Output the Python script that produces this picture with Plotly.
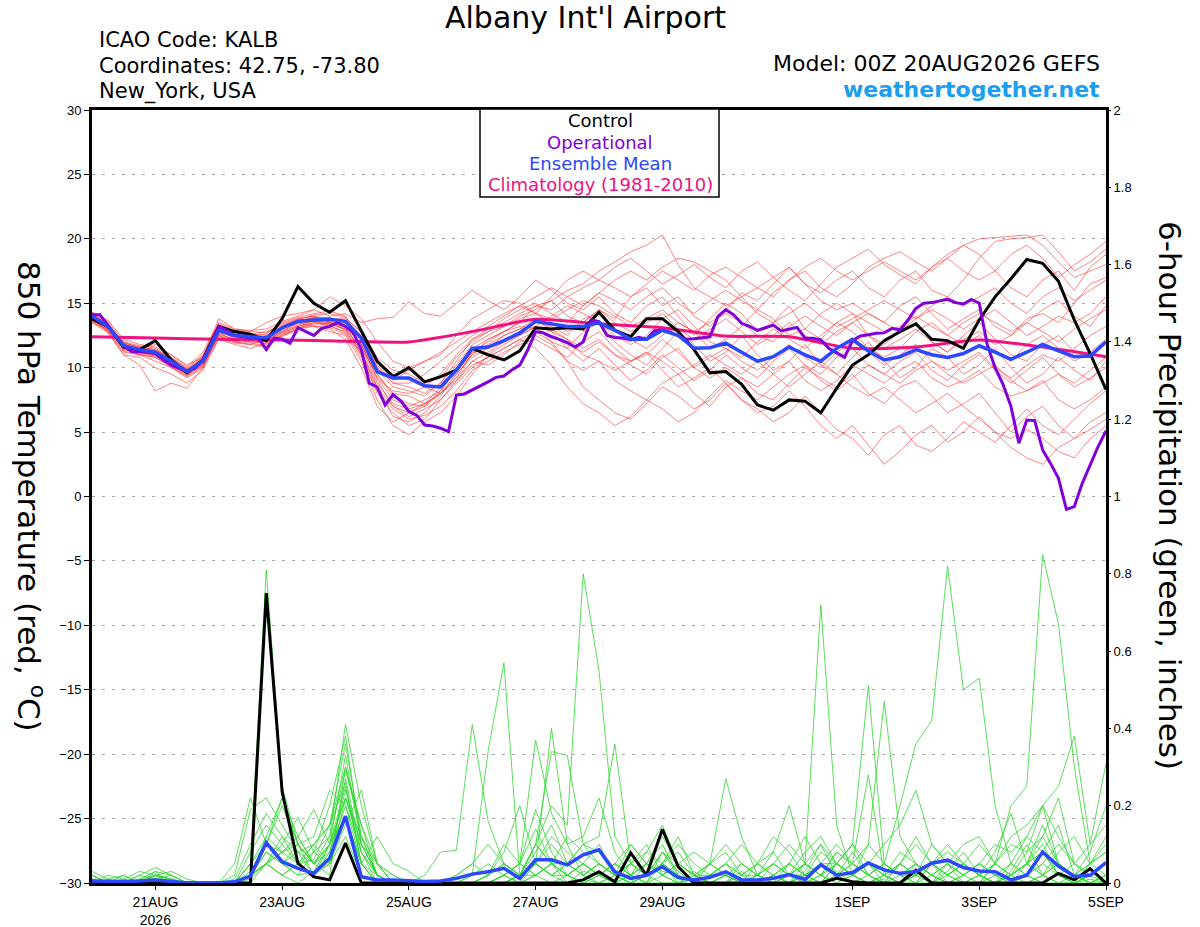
"""
GEFS meteogram: Albany Int'l Airport (KALB)
850 hPa temperature (left) + 6-hour precipitation (right)
"""

import pandas as pd
import plotly.graph_objects as go

# ---- time axes ----
RUN_START = "2026-08-20 00:00"
times_6h = pd.date_range(RUN_START, periods=65, freq="6h")
times_3h = pd.date_range(RUN_START, periods=129, freq="3h")
times_daily = pd.date_range(RUN_START, periods=17, freq="1D")

tick_dates = ["2026-08-21", "2026-08-23", "2026-08-25", "2026-08-27",
              "2026-08-29", "2026-09-01", "2026-09-03", "2026-09-05"]
tick_labels = ["21AUG<br>2026", "23AUG", "25AUG", "27AUG", "29AUG", "1SEP", "3SEP", "5SEP"]

temp_ticks = list(range(-30, 31, 5))
precip_ticks = [0, 0.2, 0.4, 0.6, 0.8, 1, 1.2, 1.4, 1.6, 1.8, 2]
precip_tick_labels = ["0", "0.2", "0.4", "0.6", "0.8", "1", "1.2", "1.4", "1.6", "1.8", "2"]

# ---- 850 hPa temperature (C), 6-hourly ----
control_temp = [
    13.8, 13.2, 11.6, 11.4, 12.1, 10.6, 9.6, 10.6, 13.2, 12.8, 12.6, 12.1, 13.8, 16.3, 15.0, 14.3,
    15.2, 12.9, 10.5, 9.3, 10.0, 8.9, 9.3, 9.8, 11.5, 11.0, 10.6, 11.3, 13.1, 13.0, 13.1, 13.0,
    14.3, 12.9, 12.4, 13.8, 13.8, 12.8, 11.4, 9.6, 9.7, 8.7, 7.1, 6.7, 7.5, 7.4, 6.5, 8.4,
    10.2, 11.0, 12.1, 12.8, 13.4, 12.2, 12.1, 11.5, 13.7, 15.5, 16.9, 18.4, 18.1, 16.7, 13.7, 11.1,
    8.3,
]

mean_temp = [
    14.0, 13.2, 11.7, 11.4, 11.2, 10.5, 9.7, 10.5, 12.9, 12.5, 12.4, 12.3, 13.1, 13.6, 13.7, 13.75,
    13.6, 12.3, 9.7, 9.2, 9.2, 8.6, 8.5, 9.8, 11.5, 11.6, 12.1, 12.7, 13.6, 13.4, 13.2, 13.2,
    13.5, 12.9, 12.2, 12.2, 12.9, 12.5, 11.5, 11.55, 11.9, 11.2, 10.5, 10.85, 11.6, 11.0, 10.5, 11.5,
    12.2, 11.3, 10.6, 10.85, 11.4, 11.0, 10.8, 11.1, 11.7, 11.2, 10.65, 11.2, 11.8, 11.3, 10.85, 10.9,
    12.0,
]

# operational run, 3-hourly
oper_temp = [
    14.1, 14.1, 13.3, 12.5, 11.7, 11.25, 11.25, 11.2, 11.1, 10.6,
    10.2, 9.95, 9.7, 9.95, 10.6, 11.8, 13.2, 12.9, 12.5, 12.4,
    12.3, 12.3, 11.4, 12.3, 12.2, 11.9, 13.1, 12.8, 12.5, 13.05,
    13.2, 13.5, 13.2, 12.7, 11.4, 8.8, 8.5, 7.1, 7.9, 7.4,
    6.6, 6.3, 5.55, 5.47, 5.3, 5.03, 7.88, 7.96, 8.27, 8.53,
    8.9, 9.25, 9.35, 9.82, 10.2, 11.37, 12.8, 12.7, 12.4, 12.2,
    11.95, 11.6, 12.0, 13.7, 13.57, 12.5, 12.35, 12.3, 12.15, 12.35,
    12.2, 12.87, 12.9, 12.75, 12.5, 12.2, 12.25, 12.35, 12.4, 13.96,
    14.5, 14.1, 13.44, 13.2, 12.9, 13.1, 13.3, 12.85, 13.0, 13.13,
    12.3, 12.28, 12.15, 11.5, 11.15, 10.8, 12.1, 12.46, 12.55, 12.67,
    12.7, 13.05, 12.92, 13.7, 14.6, 15.0, 15.05, 15.15, 15.3, 15.05,
    14.94, 15.3, 15.0, 11.8, 10.0, 8.7, 7.0, 4.13, 5.94, 5.89,
    3.61, 2.57, 1.41, -1.0, -0.79, 1.02, 2.45, 3.87, 5.1,
]

# climatology (1981-2010), daily at 00Z
clim_temp = [12.4, 12.3, 12.2, 12.15, 12.05, 12.0, 12.8, 13.75, 13.4,
             13.1, 12.45, 12.4, 11.5, 11.6, 12.15, 11.6, 10.85]

# ensemble members (red)
temp_members = [
    [13.9, 13.0, 11.8, 11.2, 11.0, 10.4, 9.8, 10.8, 13.0, 12.2, 12.0, 12.5, 13.2, 13.8, 14.0, 13.5,
     13.2, 11.8, 9.5, 8.0, 7.8, 7.2, 8.0, 9.5, 11.0, 12.2, 12.8, 13.5, 14.8, 15.2, 14.0, 13.5,
     14.5, 13.8, 15.5, 16.2, 14.8, 15.5, 14.0, 13.2, 14.5, 15.8, 15.2, 16.5, 17.8, 16.5, 15.8, 16.8,
     17.5, 16.2, 15.5, 16.8, 17.5, 16.0, 15.5, 16.8, 18.5, 19.8, 20.0, 20.1, 20.3, 19.0, 17.5, 18.2,
     19.2],
    [14.2, 13.5, 11.5, 11.0, 10.8, 10.0, 9.4, 10.2, 12.5, 12.0, 12.2, 11.8, 12.5, 13.0, 13.5, 13.2,
     12.8, 11.0, 8.0, 6.5, 5.5, 6.0, 7.5, 9.0, 10.5, 10.2, 11.0, 12.0, 12.5, 11.8, 10.5, 9.8,
     10.5, 9.0, 8.2, 7.5, 8.8, 9.5, 8.0, 7.0, 8.5, 9.2, 8.0, 7.5, 8.8, 10.0, 9.2, 8.5,
     9.5, 8.0, 7.2, 8.5, 9.0, 7.8, 6.5, 7.2, 8.0, 6.5, 5.0, 6.2, 7.0, 5.5, 4.5, 5.8,
     6.5],
    [13.6, 13.2, 12.0, 11.5, 11.8, 11.0, 10.2, 10.8, 13.8, 13.0, 12.8, 13.5, 14.0, 14.2, 14.5, 14.0,
     14.2, 13.5, 13.8, 13.9, 15.1, 14.2, 14.0, 15.0, 16.0, 15.2, 14.5, 15.5, 16.8, 16.0, 15.0, 14.5,
     15.5, 14.2, 13.5, 14.8, 15.5, 14.0, 12.5, 13.8, 15.0, 14.2, 12.8, 13.5, 14.8, 13.0, 12.2, 13.5,
     14.2, 12.5, 11.8, 12.8, 13.5, 12.0, 11.2, 12.5, 13.5, 12.2, 11.0, 10.5, 11.8, 12.5, 11.2, 10.8,
     12.0],
    [13.8, 12.8, 11.0, 10.2, 8.2, 8.8, 8.4, 10.0, 12.8, 12.0, 11.8, 12.2, 12.8, 13.5, 13.2, 12.8,
     12.5, 10.5, 7.5, 5.5, 4.8, 5.8, 6.5, 7.8, 9.5, 11.0, 11.8, 12.5, 13.2, 12.0, 11.5, 12.8,
     13.5, 12.0, 11.0, 10.2, 11.5, 12.8, 11.8, 10.5, 11.2, 12.5, 11.0, 9.8, 10.5, 11.8, 10.2, 9.5,
     10.8, 12.0, 10.5, 9.2, 10.0, 11.5, 10.8, 9.5, 10.2, 11.5, 10.0, 8.8, 9.5, 10.8, 9.8, 9.0,
     10.5],
    [14.0, 13.3, 11.9, 11.6, 11.4, 10.8, 9.9, 10.6, 13.2, 12.8, 12.5, 12.6, 13.5, 13.9, 14.2, 14.4,
     14.0, 12.0, 9.8, 8.5, 8.2, 7.8, 8.8, 10.2, 11.8, 12.5, 13.2, 14.0, 14.5, 15.2, 16.0, 16.5,
     17.5, 18.2, 19.0, 19.5, 20.3, 18.0, 16.2, 15.5, 14.8, 15.5, 16.2, 17.0, 17.8, 16.5, 15.2, 14.5,
     15.0, 14.2, 13.5, 14.8, 15.5, 14.2, 13.0, 13.8, 14.5, 13.2, 12.5, 13.8, 14.2, 13.5, 15.0, 16.5,
     17.0],
    [13.5, 13.0, 11.5, 11.3, 11.0, 10.2, 9.5, 10.3, 12.6, 12.2, 12.0, 11.9, 12.7, 13.2, 13.5, 13.4,
     13.0, 11.5, 9.0, 7.0, 6.2, 6.8, 7.5, 8.8, 10.0, 10.8, 11.5, 12.2, 12.8, 12.0, 10.5, 8.5,
     7.5, 6.5, 6.0, 7.2, 8.5, 7.8, 6.8, 7.5, 8.8, 7.5, 6.5, 7.0, 8.2, 7.0, 5.5, 4.5,
     5.5, 4.0, 2.5, 3.5, 4.8, 5.5, 4.2, 5.0, 6.2, 5.0, 3.8, 3.0, 2.5, 3.8, 4.5, 5.2,
     6.0],
    [14.1, 13.4, 11.6, 11.5, 11.3, 10.6, 9.6, 10.4, 12.8, 12.6, 12.5, 12.4, 13.0, 13.5, 13.8, 13.9,
     13.5, 12.5, 10.5, 9.5, 9.0, 8.5, 8.0, 9.2, 11.2, 11.5, 12.0, 12.8, 13.5, 13.2, 12.5, 13.8,
     14.2, 13.0, 12.2, 11.5, 12.5, 13.5, 12.8, 11.5, 12.2, 13.2, 14.5, 13.8, 12.5, 13.0, 14.2, 15.0,
     14.2, 13.5, 12.8, 13.2, 14.0, 13.2, 12.5, 13.5, 14.2, 13.5, 12.8, 13.5, 14.5, 15.2, 14.0, 13.2,
     14.8],
    [13.7, 12.9, 11.2, 11.0, 10.5, 10.0, 9.2, 10.0, 12.2, 11.8, 11.5, 11.9, 12.5, 13.0, 13.3, 13.0,
     12.2, 10.0, 7.0, 5.8, 6.5, 7.2, 8.5, 10.0, 11.5, 12.2, 12.8, 13.2, 13.0, 12.5, 11.8, 11.2,
     12.0, 11.0, 10.2, 9.5, 10.8, 11.5, 10.0, 9.2, 10.0, 9.2, 8.5, 9.5, 10.5, 9.0, 8.2, 9.0,
     10.2, 9.5, 8.8, 9.8, 10.5, 9.2, 8.5, 9.0, 9.8, 8.5, 7.8, 8.2, 9.0, 7.5, 6.8, 7.5,
     8.5],
    [14.3, 13.6, 12.0, 11.7, 11.5, 10.8, 10.0, 11.0, 13.4, 12.9, 12.8, 12.7, 13.4, 13.8, 14.0, 13.8,
     13.8, 12.8, 10.8, 9.8, 9.5, 8.8, 9.2, 10.8, 12.0, 12.8, 13.8, 14.5, 15.0, 14.2, 13.5, 14.8,
     15.8, 15.2, 14.5, 15.5, 16.2, 15.0, 14.2, 15.2, 16.0, 15.2, 14.5, 15.8, 16.8, 17.5, 16.2, 15.5,
     16.5, 17.8, 18.5, 19.0, 18.2, 17.5, 18.5, 19.5, 18.8, 17.5, 16.2, 15.5, 16.8, 17.5, 16.0, 17.8,
     18.8],
    [13.9, 13.1, 11.4, 11.1, 10.9, 10.3, 9.6, 10.2, 12.4, 12.1, 12.2, 12.0, 12.9, 13.4, 13.6, 13.5,
     13.1, 11.2, 8.5, 6.2, 5.8, 6.5, 7.8, 9.5, 10.8, 11.5, 12.5, 13.0, 13.8, 13.0, 12.2, 11.0,
     10.5, 9.8, 10.5, 11.2, 9.8, 8.5, 9.2, 10.0, 8.8, 7.5, 6.8, 5.8, 6.5, 7.8, 6.5, 5.2,
     4.5, 3.2, 4.8, 5.5, 4.0, 3.5, 4.5, 5.8, 5.0, 4.2, 5.5, 6.8, 5.5, 4.8, 6.0, 7.2,
     8.2],
    [14.0, 13.3, 11.8, 11.4, 11.2, 10.5, 9.8, 10.7, 13.0, 12.5, 12.3, 12.2, 13.0, 13.6, 13.9, 13.7,
     13.4, 12.2, 10.2, 9.0, 9.8, 10.5, 11.2, 12.0, 12.8, 13.5, 14.2, 14.8, 14.2, 13.8, 14.5, 15.2,
     14.8, 14.0, 13.2, 13.8, 14.5, 13.5, 12.8, 13.5, 14.2, 13.5, 12.5, 12.0, 13.2, 14.0, 13.2, 12.5,
     13.5, 14.2, 13.5, 12.8, 13.8, 14.5, 13.8, 13.0, 13.8, 14.5, 13.5, 12.5, 13.2, 14.0, 13.5, 14.2,
     15.5],
    [13.8, 13.0, 11.6, 11.3, 11.0, 10.4, 9.5, 10.4, 12.7, 12.4, 12.3, 12.1, 12.8, 13.3, 13.7, 13.6,
     13.3, 11.8, 9.2, 7.5, 7.0, 7.5, 8.2, 9.8, 11.0, 11.8, 12.5, 13.0, 13.2, 14.0, 14.8, 14.2,
     13.5, 12.5, 11.8, 12.5, 13.8, 14.5, 13.2, 12.0, 11.5, 10.8, 12.0, 13.0, 12.2, 11.5, 12.5, 13.5,
     12.8, 11.5, 10.8, 11.5, 12.8, 13.5, 12.5, 11.8, 12.5, 11.2, 10.5, 11.8, 12.5, 11.5, 10.5, 11.2,
     12.2],
    [14.2, 13.4, 11.9, 11.6, 11.4, 10.7, 9.9, 10.9, 13.3, 12.7, 12.6, 12.8, 13.3, 13.7, 14.1, 14.2,
     13.9, 12.7, 10.0, 8.8, 8.5, 8.0, 8.8, 10.5, 12.2, 13.0, 13.5, 14.2, 14.8, 14.5, 15.5, 16.2,
     16.8, 16.2, 15.5, 16.5, 17.5, 16.8, 16.0, 17.2, 17.8, 17.0, 16.2, 15.5, 16.8, 17.8, 18.5, 17.5,
     16.8, 17.5, 18.2, 17.5, 16.8, 17.8, 18.8, 19.5, 20.0, 20.1, 20.2, 20.3, 19.5, 18.2, 17.0, 17.5,
     18.0],
    [13.5, 12.7, 11.0, 10.8, 10.0, 9.5, 8.8, 9.8, 12.3, 11.9, 11.8, 11.6, 12.4, 13.0, 13.2, 13.1,
     12.6, 10.8, 8.2, 6.8, 6.0, 6.3, 7.0, 8.2, 9.8, 10.5, 11.2, 11.8, 12.2, 11.5, 10.8, 12.0,
     12.8, 11.5, 10.5, 11.0, 12.2, 11.2, 10.0, 10.8, 11.5, 10.5, 9.8, 10.8, 11.8, 10.8, 10.0, 11.2,
     12.0, 11.2, 10.2, 11.0, 11.8, 10.5, 9.8, 10.5, 11.2, 10.0, 9.2, 10.2, 11.0, 10.5, 11.5, 12.5,
     13.2],
    [14.0, 13.2, 11.7, 11.3, 11.1, 10.6, 9.7, 10.6, 12.9, 12.3, 12.1, 12.4, 13.1, 13.5, 13.6, 13.3,
     12.7, 11.2, 8.8, 7.2, 6.8, 7.2, 8.0, 9.0, 10.2, 10.8, 11.5, 12.2, 11.5, 10.2, 8.5, 7.2,
     6.5, 5.5, 6.2, 7.5, 6.8, 5.8, 6.5, 7.8, 9.0, 8.2, 7.5, 8.5, 9.5, 10.2, 9.0, 8.2,
     9.2, 10.2, 9.5, 8.8, 9.8, 10.5, 9.5, 8.8, 9.5, 10.2, 9.0, 8.2, 8.8, 9.5, 8.5, 9.2,
     10.0],
    [14.1, 13.4, 11.8, 11.5, 11.3, 10.7, 9.8, 10.6, 13.1, 12.7, 12.6, 12.5, 13.2, 13.6, 13.9, 13.8,
     13.6, 12.3, 10.0, 8.8, 8.8, 9.5, 10.5, 11.5, 12.5, 13.2, 14.0, 14.8, 15.5, 16.2, 15.5, 14.8,
     15.8, 16.8, 17.5, 16.8, 17.8, 18.5, 18.2, 17.5, 16.8, 15.5, 14.2, 13.5, 14.2, 15.0, 14.0, 13.2,
     13.8, 14.5, 15.2, 14.5, 13.8, 14.8, 15.5, 14.8, 15.5, 16.2, 15.0, 14.2, 15.5, 16.2, 15.2, 16.0,
     16.8],
    [13.6, 12.8, 11.3, 11.0, 10.8, 10.1, 9.3, 10.1, 12.5, 12.0, 11.9, 11.7, 12.6, 13.1, 13.4, 13.4,
     13.0, 11.5, 9.5, 7.8, 7.2, 7.0, 8.0, 9.2, 10.5, 11.2, 12.0, 12.5, 13.2, 12.8, 12.2, 11.5,
     12.2, 11.0, 10.5, 11.2, 10.5, 9.5, 10.2, 11.0, 10.2, 9.5, 10.5, 9.5, 8.5, 9.5, 10.5, 9.5,
     8.5, 7.8, 8.5, 7.5, 6.5, 7.2, 8.0, 7.0, 6.0, 5.0, 4.5, 5.2, 4.5, 3.5, 3.0, 4.5,
     5.5],
    [13.9, 13.1, 11.7, 11.4, 11.2, 10.5, 9.6, 10.5, 12.8, 12.5, 12.4, 12.3, 13.0, 13.6, 13.8, 13.6,
     13.2, 11.8, 9.2, 8.2, 8.0, 8.5, 9.5, 11.0, 12.2, 12.8, 13.2, 13.8, 14.2, 13.5, 12.8, 13.5,
     14.5, 13.5, 12.8, 13.5, 14.2, 13.0, 12.2, 13.0, 13.8, 12.8, 11.8, 12.5, 13.5, 12.5, 11.8, 12.8,
     13.5, 12.5, 11.5, 12.2, 13.0, 12.0, 11.2, 12.2, 12.8, 11.8, 12.5, 13.5, 12.8, 12.0, 13.0, 13.8,
     14.5],
    [13.7, 12.9, 11.4, 11.2, 10.9, 10.2, 9.4, 10.2, 12.6, 12.2, 12.1, 12.0, 12.7, 13.2, 13.6, 13.5,
     12.9, 11.0, 8.5, 7.0, 6.5, 7.0, 8.2, 9.8, 11.2, 12.0, 12.8, 13.5, 13.8, 12.8, 11.5, 10.5,
     11.5, 10.2, 9.0, 9.8, 11.0, 10.0, 9.0, 9.8, 11.0, 10.0, 9.2, 10.5, 11.5, 10.2, 9.5, 10.8,
     11.5, 10.2, 9.5, 10.5, 11.2, 9.8, 9.0, 10.2, 11.0, 9.8, 8.8, 9.8, 10.8, 9.5, 8.8, 9.8,
     10.8],
    [14.3, 13.7, 12.2, 11.8, 11.6, 11.0, 10.1, 11.2, 13.5, 13.0, 12.9, 13.0, 13.6, 14.0, 14.5, 15.5,
     14.8, 13.8, 12.0, 10.5, 10.0, 10.5, 11.0, 12.5, 13.8, 14.5, 15.2, 15.0, 14.2, 15.5, 16.8, 17.5,
     16.8, 17.8, 18.5, 17.5, 16.5, 17.2, 18.0, 17.0, 16.2, 17.5, 18.2, 17.0, 16.0, 15.2, 16.5, 17.8,
     18.5, 19.2, 18.0, 17.2, 16.5, 17.8, 18.5, 17.5, 16.8, 17.5, 18.8, 19.5, 18.5, 17.0, 18.0, 18.8,
     19.8],
]

# ---- 6-hour precipitation (inches) ----
control_precip = [
    0, 0, 0, 0, 0, 0, 0, 0, 0, 0, 0, 0.75, 0.236, 0.051, 0.016, 0.008,
    0.103, 0, 0, 0, 0, 0, 0, 0, 0, 0, 0, 0, 0, 0, 0, 0.008,
    0.029, 0.003, 0.078, 0.02, 0.139, 0.042, 0, 0, 0, 0, 0, 0, 0, 0, 0, 0.012,
    0.003, 0, 0, 0, 0.033, 0, 0, 0, 0, 0, 0, 0, 0, 0.025, 0.008, 0.037,
    0,
]

mean_precip = [
    0.005, 0.004, 0.004, 0.005, 0.008, 0.004, 0, 0, 0, 0.003, 0.018, 0.104, 0.055, 0.038, 0.025, 0.064,
    0.173, 0.016, 0.008, 0.008, 0.005, 0.004, 0.005, 0.012, 0.023, 0.029, 0.038, 0.012, 0.06, 0.06, 0.047, 0.073,
    0.086, 0.029, 0.012, 0.02, 0.042, 0.014, 0.008, 0.015, 0.029, 0.008, 0.008, 0.012, 0.022, 0.009, 0.047, 0.02,
    0.027, 0.052, 0.034, 0.025, 0.029, 0.051, 0.059, 0.04, 0.031, 0.029, 0.008, 0.02, 0.08, 0.044, 0.017, 0.02,
    0.053,
]

# ensemble members (green)
precip_members = [
    [0.02, 0, 0, 0.01, 0.02, 0.01, 0, 0, 0, 0, 0.05, 0.81, 0.25, 0.1, 0.02, 0.05,
     0.12, 0.02, 0, 0, 0, 0, 0, 0, 0, 0, 0, 0, 0.02, 0.05, 0, 0.01,
     0, 0, 0.02, 0, 0, 0, 0.01, 0, 0, 0, 0, 0, 0, 0.03, 0.1, 0.02,
     0, 0, 0.02, 0, 0, 0.05, 0.02, 0, 0, 0, 0.03, 0.1, 0.02, 0, 0, 0.01,
     0],
    [0, 0, 0, 0, 0.01, 0, 0, 0, 0, 0, 0, 0.05, 0.02, 0, 0.03, 0.1,
     0.25, 0.05, 0, 0, 0, 0.02, 0.08, 0.085, 0.41, 0.16, 0.05, 0.02, 0.1, 0.05, 0.02, 0,
     0, 0.02, 0, 0, 0.05, 0.02, 0, 0, 0, 0.03, 0, 0, 0, 0, 0.02, 0.05,
     0.1, 0.05, 0, 0, 0, 0.02, 0, 0, 0, 0.02, 0.05, 0.02, 0, 0, 0, 0.02,
     0.05],
    [0.03, 0.01, 0.02, 0, 0.01, 0, 0, 0, 0, 0, 0.02, 0.1, 0.05, 0.02, 0.08, 0.2,
     0.38, 0.1, 0.02, 0, 0, 0, 0, 0, 0.02, 0.34, 0.57, 0.02, 0.05, 0.12, 0.08, 0.05,
     0.02, 0, 0, 0.05, 0.1, 0.02, 0, 0, 0, 0, 0, 0.02, 0, 0, 0, 0.02,
     0.08, 0.02, 0, 0, 0.02, 0.1, 0.05, 0, 0, 0, 0.02, 0.05, 0.1, 0.02, 0, 0,
     0.02],
    [0, 0.02, 0.01, 0.03, 0.02, 0.01, 0, 0, 0, 0.01, 0.1, 0.18, 0.12, 0.05, 0.06, 0.15,
     0.3, 0.15, 0.02, 0, 0, 0, 0, 0, 0, 0.02, 0.05, 0.02, 0.1, 0.2, 0.15, 0.8,
     0.55, 0.12, 0.05, 0.02, 0.08, 0.03, 0, 0, 0.02, 0, 0, 0, 0.02, 0, 0.05, 0.03,
     0, 0, 0, 0.05, 0.02, 0, 0.03, 0.08, 0.02, 0, 0, 0.05, 0.12, 0.05, 0.02, 0,
     0.02],
    [0, 0, 0, 0, 0.03, 0.02, 0, 0, 0, 0.02, 0.19, 0.22, 0.15, 0.08, 0.02, 0.1,
     0.22, 0.08, 0, 0, 0, 0, 0, 0.02, 0.05, 0.02, 0.1, 0.05, 0.37, 0.18, 0.1, 0.12,
     0.22, 0.08, 0.02, 0.05, 0.02, 0, 0.01, 0.05, 0.27, 0.12, 0.02, 0, 0, 0.02, 0, 0.05,
     0.02, 0, 0.01, 0.05, 0.12, 0.05, 0, 0, 0.02, 0, 0.05, 0.12, 0.08, 0.02, 0, 0.02,
     0.05],
    [0.01, 0, 0, 0, 0.02, 0, 0, 0, 0, 0, 0.02, 0.05, 0.08, 0.12, 0.05, 0.02,
     0.3, 0.12, 0.05, 0, 0, 0, 0, 0, 0, 0.02, 0.08, 0.2, 0.05, 0.4, 0.1, 0.02,
     0.05, 0.02, 0.05, 0.1, 0.02, 0, 0.03, 0, 0, 0.02, 0.05, 0.08, 0.02, 0.05, 0.72, 0.15,
     0.02, 0, 0.02, 0, 0.05, 0.02, 0, 0, 0, 0.05, 0.02, 0, 0.02, 0.05, 0.02, 0,
     0.02],
    [0, 0, 0, 0, 0, 0, 0, 0, 0, 0, 0.05, 0.12, 0.08, 0.1, 0.05, 0.12,
     0.41, 0.2, 0.05, 0, 0, 0, 0, 0, 0, 0, 0.02, 0.05, 0.02, 0, 0.02, 0.05,
     0.1, 0.02, 0, 0.02, 0.05, 0.12, 0.02, 0, 0, 0, 0.02, 0, 0.05, 0.02, 0, 0.05,
     0.1, 0.51, 0.05, 0.02, 0, 0, 0.02, 0.05, 0.02, 0, 0, 0.02, 0.05, 0.02, 0, 0.05,
     0.1],
    [0.02, 0, 0.01, 0, 0, 0, 0, 0, 0, 0, 0.08, 0.15, 0.1, 0.05, 0.1, 0.15,
     0.36, 0.12, 0.02, 0, 0, 0, 0, 0, 0, 0, 0, 0.02, 0.05, 0.02, 0, 0.03,
     0.02, 0.05, 0.02, 0, 0.08, 0.02, 0, 0.02, 0.05, 0, 0, 0.02, 0, 0.05, 0.02, 0,
     0.02, 0.1, 0.47, 0.12, 0.05, 0.02, 0, 0.02, 0.05, 0.02, 0, 0, 0.02, 0.05, 0.02, 0,
     0],
    [0, 0, 0, 0, 0.02, 0.03, 0.01, 0, 0, 0, 0.02, 0.05, 0.02, 0.05, 0.02, 0.08,
     0.2, 0.05, 0, 0, 0, 0, 0, 0, 0, 0, 0.02, 0, 0.02, 0.05, 0.02, 0,
     0.02, 0, 0.05, 0.02, 0, 0, 0.02, 0, 0, 0, 0, 0.02, 0.05, 0.02, 0, 0.02,
     0.05, 0.02, 0.05, 0.2, 0.36, 0.42, 0.82, 0.5, 0.53, 0.2, 0.05, 0.02, 0, 0.02, 0.05, 0.02,
     0],
    [0, 0.01, 0, 0.02, 0.04, 0.02, 0, 0, 0, 0, 0.03, 0.1, 0.22, 0.12, 0.05, 0.1,
     0.33, 0.1, 0.02, 0, 0, 0, 0, 0, 0, 0.02, 0.05, 0.02, 0.08, 0.15, 0.05, 0.02,
     0.05, 0.02, 0.1, 0.05, 0.03, 0.02, 0, 0.05, 0.08, 0.02, 0, 0.05, 0.02, 0.08, 0.12, 0.05,
     0.02, 0.05, 0.1, 0.15, 0.24, 0.1, 0.05, 0.02, 0.05, 0.1, 0.08, 0.12, 0.2, 0.05, 0.02, 0.05,
     0.08],
    [0, 0, 0, 0, 0, 0, 0, 0, 0, 0, 0.02, 0.08, 0.05, 0.02, 0.03, 0.05,
     0.27, 0.08, 0.02, 0, 0, 0, 0, 0, 0, 0, 0, 0.02, 0.05, 0.1, 0.05, 0.02,
     0, 0.02, 0, 0.02, 0.05, 0, 0, 0.02, 0.02, 0, 0.05, 0.02, 0, 0.02, 0.05, 0.02,
     0, 0.02, 0, 0.05, 0.02, 0, 0.05, 0.1, 0.12, 0.05, 0.2, 0.25, 0.85, 0.67, 0.3, 0.05,
     0.02],
    [0.02, 0, 0, 0.01, 0.03, 0, 0, 0, 0, 0, 0.05, 0.1, 0.2, 0.1, 0.05, 0.08,
     0.24, 0.1, 0.05, 0.02, 0, 0, 0, 0, 0, 0, 0.02, 0.05, 0.14, 0.05, 0.02, 0.05,
     0.02, 0.05, 0.02, 0, 0.02, 0.05, 0.02, 0, 0, 0.05, 0.02, 0, 0.02, 0, 0.02, 0.08,
     0.05, 0.02, 0, 0.02, 0.05, 0.02, 0.05, 0.02, 0, 0.05, 0.12, 0.15, 0.2, 0.25, 0.38, 0.1,
     0.31],
    [0, 0, 0, 0, 0, 0.01, 0, 0, 0, 0, 0.02, 0.05, 0.12, 0.08, 0.1, 0.05,
     0.22, 0.12, 0.02, 0, 0, 0, 0, 0.02, 0.05, 0.1, 0.05, 0.02, 0.1, 0.34, 0.33, 0.1,
     0.05, 0.02, 0, 0.02, 0.05, 0.08, 0.02, 0, 0.02, 0, 0.02, 0.05, 0.1, 0.05, 0.02, 0.08,
     0.05, 0.28, 0.02, 0, 0.02, 0.05, 0.02, 0, 0.02, 0.05, 0.02, 0.05, 0.08, 0.02, 0, 0.02,
     0.05],
    [0, 0, 0.02, 0, 0, 0, 0, 0, 0, 0, 0.02, 0.05, 0.02, 0.05, 0.08, 0.12,
     0.29, 0.15, 0.05, 0.02, 0, 0, 0, 0, 0, 0, 0.02, 0.05, 0.02, 0.05, 0.05, 0.1,
     0.12, 0.36, 0.05, 0.02, 0.08, 0.05, 0.02, 0.05, 0.02, 0, 0, 0.02, 0.05, 0.02, 0.08, 0.05,
     0.02, 0.05, 0.02, 0.08, 0.05, 0.02, 0, 0.02, 0.05, 0.02, 0, 0.02, 0.05, 0.1, 0.05, 0.02,
     0.05],
    [0, 0, 0, 0, 0.01, 0.02, 0, 0, 0, 0, 0.01, 0.05, 0.08, 0.05, 0.1, 0.15,
     0.26, 0.05, 0, 0, 0, 0, 0, 0, 0, 0, 0, 0.02, 0.05, 0.02, 0.02, 0.05,
     0.02, 0, 0.02, 0.05, 0.02, 0.05, 0.08, 0.05, 0.1, 0.05, 0.02, 0.08, 0.2, 0.05, 0.02, 0,
     0.02, 0.05, 0.02, 0, 0.02, 0.05, 0.02, 0.05, 0.02, 0.08, 0.18, 0.05, 0.02, 0, 0.02, 0.05,
     0.12],
    [0, 0, 0, 0, 0.02, 0, 0, 0, 0, 0, 0.02, 0.08, 0.05, 0.1, 0.12, 0.24,
     0.2, 0.08, 0.02, 0, 0, 0, 0, 0, 0.02, 0.05, 0.02, 0.05, 0.19, 0.08, 0.02, 0,
     0.02, 0.05, 0.02, 0.08, 0.05, 0.02, 0, 0.02, 0.05, 0.1, 0.05, 0.02, 0.05, 0.12, 0.05, 0.02,
     0.05, 0.1, 0.05, 0.02, 0.02, 0.05, 0.1, 0.05, 0.02, 0, 0.02, 0.05, 0.08, 0.15, 0.02, 0,
     0],
    [0.01, 0, 0, 0, 0, 0, 0, 0, 0, 0, 0.02, 0.12, 0.22, 0.1, 0.05, 0.1,
     0.22, 0.1, 0.02, 0, 0, 0, 0, 0, 0, 0, 0, 0.02, 0.05, 0.02, 0.05, 0.02,
     0.05, 0.02, 0.05, 0.08, 0.15, 0.05, 0.02, 0, 0.02, 0.05, 0.02, 0, 0.02, 0.05, 0.02, 0.05,
     0.02, 0, 0.02, 0.05, 0.02, 0.05, 0.02, 0.05, 0.02, 0.05, 0.1, 0.08, 0.2, 0.12, 0.05, 0.02,
     0.05],
    [0, 0, 0, 0, 0.02, 0.01, 0, 0, 0, 0.05, 0.22, 0.1, 0.08, 0.12, 0.19, 0.1,
     0.17, 0.05, 0.02, 0, 0, 0, 0, 0, 0, 0.02, 0.05, 0.02, 0.1, 0.05, 0.12, 0.08,
     0.05, 0.02, 0.02, 0.05, 0.12, 0.05, 0.02, 0.05, 0.02, 0, 0.02, 0.05, 0.02, 0.02, 0.05, 0.1,
     0.05, 0.02, 0.05, 0.02, 0, 0.05, 0.08, 0.05, 0.1, 0.05, 0.02, 0.05, 0.02, 0.08, 0.12, 0.05,
     0.08],
    [0, 0, 0, 0.02, 0.01, 0, 0, 0, 0, 0, 0.02, 0.05, 0.1, 0.17, 0.08, 0.05,
     0.15, 0.24, 0.05, 0, 0, 0, 0, 0, 0, 0, 0.02, 0, 0.05, 0.02, 0.05, 0.1,
     0.08, 0.02, 0.05, 0.02, 0.05, 0.1, 0.05, 0.02, 0.05, 0.02, 0.05, 0.12, 0.08, 0.02, 0.05, 0.05,
     0.1, 0.02, 0.05, 0.02, 0.05, 0.02, 0.05, 0.02, 0.05, 0.02, 0.02, 0.05, 0.15, 0.05, 0.02, 0.08,
     0.2],
    [0, 0, 0, 0, 0, 0, 0, 0, 0, 0, 0.02, 0.1, 0.05, 0.08, 0.05, 0.1,
     0.17, 0.05, 0.12, 0.05, 0.03, 0, 0, 0, 0, 0, 0, 0.02, 0.02, 0.05, 0.02, 0.05,
     0.02, 0.05, 0.1, 0.05, 0.02, 0.05, 0.02, 0.02, 0.05, 0.02, 0.02, 0.05, 0.02, 0.05, 0.1, 0.05,
     0.02, 0.05, 0.02, 0.05, 0.1, 0.05, 0.02, 0.05, 0.02, 0, 0.02, 0.08, 0.12, 0.22, 0.05, 0.1,
     0.15],
]

# ---- colours / fonts ----
RED_MEMBER = "rgba(255,40,40,0.72)"
GREEN_MEMBER = "#2fd62f"
CONTROL = "#000000"
OPER = "#8000dc"
MEAN = "#2a48ff"
CLIM = "#f0127f"
SITE_BLUE = "#1a9df2"
FONT = "Liberation Sans, Arial, sans-serif"
WIDE_FONT = "DejaVu Sans, Verdana, sans-serif"

# plot frame in pixels (for placing the text blocks)
PL, PR, PT, PB = 92, 1106, 110, 883


def px(x, y):
    """pixel position -> paper coordinates"""
    return (x - PL) / (PR - PL), (PB - y) / (PB - PT)


fig = go.Figure()

for row in temp_members:
    fig.add_trace(go.Scatter(x=times_6h, y=row, mode="lines",
                             line=dict(color=RED_MEMBER, width=0.8), hoverinfo="skip"))
for row in precip_members:
    fig.add_trace(go.Scatter(x=times_6h, y=row, mode="lines", yaxis="y2",
                             line=dict(color=GREEN_MEMBER, width=0.8), hoverinfo="skip"))

fig.add_trace(go.Scatter(x=times_daily, y=clim_temp, mode="lines", name="Climatology",
                         line=dict(color=CLIM, width=3, shape="spline", smoothing=0.6)))
fig.add_trace(go.Scatter(x=times_6h, y=control_temp, mode="lines", name="Control",
                         line=dict(color=CONTROL, width=3)))
fig.add_trace(go.Scatter(x=times_6h, y=control_precip, mode="lines", yaxis="y2",
                         line=dict(color=CONTROL, width=3)))
fig.add_trace(go.Scatter(x=times_3h, y=oper_temp, mode="lines", name="Operational",
                         line=dict(color=OPER, width=3)))
fig.add_trace(go.Scatter(x=times_6h, y=mean_temp, mode="lines", name="Ensemble Mean",
                         line=dict(color=MEAN, width=3.5)))
fig.add_trace(go.Scatter(x=times_6h, y=mean_precip, mode="lines", yaxis="y2",
                         line=dict(color=MEAN, width=3.5)))

# ---- text blocks ----
annotations = []


def add_text(x, y, text, size, color="black", anchor="center", angle=0, bold=False):
    xp, yp = px(x, y)
    if bold:
        text = f"<b>{text}</b>"
    annotations.append(dict(x=xp, y=yp, xref="paper", yref="paper", text=text,
                            showarrow=False, xanchor=anchor, yanchor="middle",
                            textangle=angle, font=dict(family=WIDE_FONT, size=size, color=color)))


add_text(585, 18, "Albany Int'l Airport", 30)
add_text(97, 40, "ICAO Code: KALB", 21, anchor="left")
add_text(97, 66, "Coordinates: 42.75, -73.80", 21, anchor="left")
add_text(97, 92, "New_York, USA", 21, anchor="left")
add_text(1102, 63, "Model: 00Z 20AUG2026 GEFS", 22, anchor="right")
add_text(1102, 89, "weathertogether.net", 22, color=SITE_BLUE, anchor="right", bold=True)

add_text(600, 121, "Control", 18)
add_text(600, 142, "Operational", 18, color=OPER)
add_text(600, 163, "Ensemble Mean", 18, color=MEAN)
add_text(600, 185, "Climatology (1981-2010)", 18, color=CLIM)

add_text(31, 496, "850 hPa Temperature (red, <sup>o</sup>C)", 31, angle=90)
add_text(1170, 495, "6-hour Precipitation (green, inches)", 31, angle=90)

bx0, by0 = px(480, 197)
bx1, by1 = px(719, 109)

fig.update_layout(
    width=1200, height=927,
    margin=dict(l=PL, r=1200 - PR, t=PT, b=927 - PB),
    paper_bgcolor="white", plot_bgcolor="white",
    showlegend=False,
    font=dict(family=FONT, size=13, color="black"),
    annotations=annotations,
    shapes=[dict(type="rect", xref="paper", yref="paper", x0=bx0, y0=by0, x1=bx1, y1=by1,
                 line=dict(color="black", width=1.5), fillcolor="white", layer="above")],
    xaxis=dict(range=[times_6h[0], times_6h[-1]], tickvals=tick_dates, ticktext=tick_labels,
               ticks="outside", ticklen=4, tickcolor="black", showgrid=False,
               showline=True, linecolor="black", linewidth=3, mirror=True,
               tickfont=dict(size=14), automargin=False),
    yaxis=dict(range=[-30, 30], tickvals=temp_ticks, ticks="outside", ticklen=5,
               tickcolor="black", showgrid=True, gridcolor="#a6a6a6", griddash="3px,7px",
               gridwidth=1, zeroline=False, showline=True, linecolor="black",
               linewidth=3, mirror=True, tickfont=dict(size=13), automargin=False),
    yaxis2=dict(range=[0, 2], overlaying="y", side="right", tickvals=precip_ticks,
                ticktext=precip_tick_labels, ticks="outside", ticklen=4, tickcolor="black",
                showgrid=False, zeroline=False, showline=False, tickfont=dict(size=13),
                automargin=False),
)

# page body margin would shift the figure by 8px
fig.write_html("out.html", config={"displayModeBar": False},
               post_script="document.body.style.margin = '0px';")
